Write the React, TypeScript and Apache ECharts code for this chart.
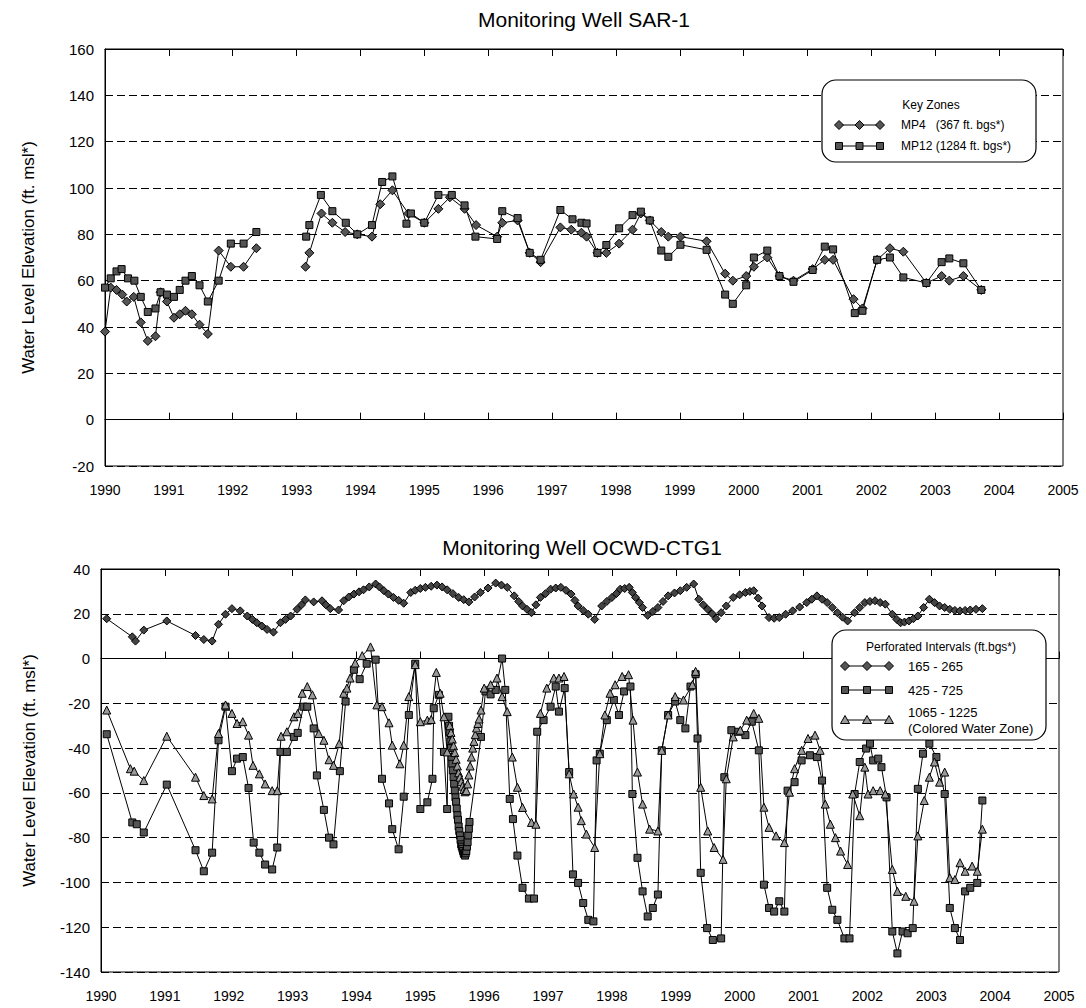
import React, { useEffect, useRef } from "react";
import * as echarts from "echarts";

type Pt = [number, number | null];

// ---------- Monitoring Well SAR-1 ----------
const MP4: Pt[] = [
  [1990.0, 38], [1990.09, 57], [1990.18, 56], [1990.27, 54], [1990.34, 51], [1990.45, 53], [1990.56, 42],
  [1990.67, 34], [1990.79, 36], [1990.87, 55], [1990.97, 51], [1991.08, 44], [1991.17, 45.5], [1991.26, 47],
  [1991.36, 45.5], [1991.48, 41], [1991.61, 37], [1991.78, 73], [1991.97, 66], [1992.17, 66], [1992.37, 74],
  [1992.8, null],
  [1993.14, 66], [1993.2, 72], [1993.39, 89], [1993.56, 85], [1993.76, 81], [1993.95, 80], [1994.18, 79],
  [1994.31, 93], [1994.5, 99], [1994.75, 89], [1995.0, 85], [1995.22, 91], [1995.4, 96], [1995.63, 91],
  [1995.81, 84], [1996.14, 79], [1996.22, 85], [1996.46, 86], [1996.65, 72], [1996.82, 68], [1997.13, 83],
  [1997.3, 82], [1997.46, 80.7], [1997.54, 79], [1997.71, 72], [1997.85, 72], [1998.05, 76], [1998.26, 82],
  [1998.39, 89], [1998.53, 86], [1998.71, 81], [1998.82, 79], [1999.01, 79], [1999.42, 77], [1999.71, 63],
  [1999.83, 60], [2000.04, 62], [2000.16, 66], [2000.37, 70], [2000.56, 62], [2000.78, 60], [2001.08, 65],
  [2001.27, 69], [2001.4, 69], [2001.72, 52], [2001.86, 48], [2002.09, 69], [2002.29, 74], [2002.5, 72.5],
  [2002.86, 59], [2003.1, 62], [2003.22, 60], [2003.44, 62], [2003.72, 56],
];

const MP12: Pt[] = [
  [1990.0, 57], [1990.09, 61], [1990.18, 64], [1990.26, 65], [1990.36, 61], [1990.46, 60], [1990.56, 53],
  [1990.67, 46.5], [1990.79, 48], [1990.87, 55], [1990.97, 54], [1991.08, 53], [1991.17, 56], [1991.26, 60],
  [1991.36, 62], [1991.48, 58], [1991.61, 51], [1991.78, 60], [1991.97, 76], [1992.17, 76], [1992.37, 81],
  [1992.8, null],
  [1993.15, 79], [1993.2, 84], [1993.38, 97], [1993.56, 90], [1993.77, 85], [1993.95, 80], [1994.18, 84],
  [1994.34, 102.6], [1994.5, 105], [1994.72, 84.6], [1994.79, 89], [1995.0, 85], [1995.22, 97], [1995.43, 97],
  [1995.63, 92.5], [1995.8, 79], [1996.14, 78], [1996.22, 90], [1996.46, 87], [1996.65, 72], [1996.82, 69],
  [1997.13, 90.5], [1997.32, 86.5], [1997.46, 85], [1997.54, 84.7], [1997.71, 72], [1997.85, 75.4],
  [1998.05, 82.6], [1998.26, 88.3], [1998.39, 89.8], [1998.53, 86], [1998.71, 73], [1998.82, 70.3],
  [1999.01, 75.5], [1999.42, 73.3], [1999.71, 54], [1999.83, 50], [2000.04, 58], [2000.16, 70], [2000.37, 73],
  [2000.56, 62], [2000.78, 59.5], [2001.08, 64.6], [2001.27, 74.7], [2001.4, 73.5], [2001.74, 46],
  [2001.86, 47], [2002.09, 69], [2002.29, 70], [2002.5, 61.4], [2002.86, 59], [2003.1, 68], [2003.22, 69.6],
  [2003.44, 67.5], [2003.72, 56],
];

// ---------- Monitoring Well OCWD-CTG1 ----------
const S165_265: Pt[] = [
  [1990.09, 17.8], [1990.49, 9.7], [1990.54, 7.8], [1990.67, 12.7], [1991.03, 16.8], [1991.48, 10.3],
  [1991.61, 8.5], [1991.74, 7.8], [1991.84, 15.3], [1991.95, 19.8], [1992.05, 22.3], [1992.18, 21.3],
  [1992.29, 19], [1992.37, 17.5], [1992.44, 16], [1992.52, 14.5], [1992.6, 13], [1992.7, 11.8], [1992.81, 16],
  [1992.89, 17.5], [1992.97, 19], [1993.07, 22], [1993.14, 24], [1993.2, 26.2], [1993.33, 25.3],
  [1993.46, 25.8], [1993.52, 24], [1993.59, 22.3], [1993.72, 21.7], [1993.8, 25.8], [1993.88, 27.5],
  [1993.96, 28.8], [1994.04, 29.8], [1994.11, 30.7], [1994.2, 32], [1994.3, 33.3], [1994.36, 32],
  [1994.43, 30.3], [1994.5, 28.8], [1994.58, 27.3], [1994.66, 26], [1994.74, 24.7], [1994.85, 29.5],
  [1994.92, 30.5], [1995.0, 31.3], [1995.08, 31.8], [1995.17, 32.3], [1995.26, 32.8], [1995.34, 32],
  [1995.42, 30.7], [1995.51, 29], [1995.6, 27.3], [1995.68, 26.3], [1995.76, 25.3], [1995.85, 27.5],
  [1995.94, 29.5], [1996.06, 31.5], [1996.18, 33.7], [1996.27, 32.8], [1996.36, 31.8], [1996.47, 28],
  [1996.54, 25.5], [1996.6, 23.5], [1996.67, 22], [1996.74, 20.5], [1996.81, 24], [1996.88, 27.3],
  [1996.96, 29], [1997.04, 31], [1997.12, 31.5], [1997.2, 31.8], [1997.28, 30.5], [1997.36, 28.8],
  [1997.42, 26], [1997.47, 23.5], [1997.55, 21.5], [1997.63, 19.8], [1997.73, 17.5], [1997.84, 23.5],
  [1997.92, 25.5], [1998.0, 27.3], [1998.07, 29], [1998.13, 31], [1998.2, 31.3], [1998.27, 31.8],
  [1998.32, 29.5], [1998.37, 27.3], [1998.43, 25], [1998.48, 22.8], [1998.56, 19.3], [1998.64, 21],
  [1998.72, 22.8], [1998.8, 25.5], [1998.88, 28], [1998.98, 29.3], [1999.07, 30.3], [1999.17, 31.8],
  [1999.28, 33.3], [1999.36, 26.5], [1999.43, 24], [1999.5, 22], [1999.57, 20], [1999.63, 17.8],
  [1999.71, 20.5], [1999.79, 23.5], [1999.9, 27.3], [2000.0, 28.5], [2000.09, 29.5], [2000.16, 30],
  [2000.22, 30.3], [2000.29, 27], [2000.35, 23.5], [2000.46, 18.3], [2000.54, 18], [2000.62, 18.3],
  [2000.72, 19.8], [2000.83, 21.3], [2000.94, 23], [2001.05, 25], [2001.13, 26.5], [2001.21, 28],
  [2001.29, 26.5], [2001.37, 25], [2001.45, 22.8], [2001.53, 20.5], [2001.61, 18.5], [2001.69, 16.8],
  [2001.8, 20.5], [2001.88, 22.8], [2001.96, 25], [2002.04, 25.5], [2002.12, 25.8], [2002.2, 25],
  [2002.28, 24.3], [2002.39, 19.8], [2002.46, 17.5], [2002.52, 16], [2002.58, 16.3], [2002.65, 16.8],
  [2002.72, 17.8], [2002.79, 19], [2002.88, 22.8], [2002.97, 26.5], [2003.05, 25], [2003.13, 23.5],
  [2003.21, 22.8], [2003.29, 22], [2003.37, 21.5], [2003.45, 21.3], [2003.53, 21.5], [2003.61, 21.7],
  [2003.7, 22], [2003.8, 22.3],
];

const S425_725: Pt[] = [
  [1990.09, -33.8], [1990.49, -73.2], [1990.56, -74], [1990.67, -77.7], [1991.03, -56.3], [1991.48, -85.6],
  [1991.61, -95], [1991.74, -86.7], [1991.84, -36.5], [1991.95, -21.5], [1992.05, -50.3], [1992.13, -44.7],
  [1992.22, -44], [1992.31, -57.8], [1992.39, -82.2], [1992.48, -86.7], [1992.57, -92], [1992.68, -94.2],
  [1992.76, -84.4], [1992.81, -41.7], [1992.91, -41.7], [1993.02, -35], [1993.08, -33.2], [1993.17, -21.5],
  [1993.23, -21.5], [1993.33, -31.2], [1993.38, -52.2], [1993.49, -67.6], [1993.57, -80], [1993.64, -83],
  [1993.74, -50.3], [1993.83, -19.2], [1993.96, -5], [1994.05, -9.2], [1994.16, -2.3], [1994.3, -0.5],
  [1994.4, -53.7], [1994.51, -64.7], [1994.56, -76.2], [1994.66, -85.2], [1994.74, -61.7], [1994.82, -25.2],
  [1994.92, -2.3], [1995.0, -67.2], [1995.11, -64.2], [1995.19, -53.7], [1995.21, -22.2], [1995.29, -16.2],
  [1995.37, -41.7], [1995.42, -67.2], [1995.44, -26], [1995.45, -30], [1995.46, -33], [1995.47, -37],
  [1995.48, -40], [1995.49, -44], [1995.5, -47], [1995.51, -50], [1995.52, -53], [1995.53, -56],
  [1995.54, -59], [1995.55, -62], [1995.56, -64], [1995.57, -67], [1995.58, -70], [1995.59, -72],
  [1995.6, -75], [1995.61, -77], [1995.62, -79], [1995.63, -81], [1995.64, -83], [1995.65, -84],
  [1995.66, -85], [1995.67, -86], [1995.68, -87], [1995.69, -87.5], [1995.7, -88], [1995.71, -87],
  [1995.72, -86], [1995.73, -84], [1995.74, -82], [1995.75, -79], [1995.76, -76], [1995.77, -73],
  [1995.95, -35], [1996.02, -14.7], [1996.1, -16], [1996.18, -14], [1996.28, 0], [1996.33, -14],
  [1996.4, -62.7], [1996.45, -71.7], [1996.52, -88], [1996.6, -102.4], [1996.7, -107.2], [1996.78, -107.2],
  [1996.83, -32.7], [1996.93, -27.5], [1997.04, -21.5], [1997.12, -12.5], [1997.17, -23.7], [1997.26, -13.2],
  [1997.33, -50.7], [1997.39, -96.4], [1997.47, -100.2], [1997.55, -109.2], [1997.63, -116.7],
  [1997.71, -117.4], [1997.76, -45.5], [1997.81, -42.5], [1997.92, -27.5], [1998.03, -18.5], [1998.11, -25.2],
  [1998.19, -14.7], [1998.29, -12.5], [1998.32, -60.5], [1998.4, -89], [1998.48, -104], [1998.56, -115.2],
  [1998.64, -111.4], [1998.72, -105.4], [1998.78, -41], [1998.88, -25.2], [1998.99, -19.2], [1999.07, -27.5],
  [1999.15, -31.2], [1999.23, -12.5], [1999.31, -7], [1999.34, -35.7], [1999.39, -95.7], [1999.49, -120.4],
  [1999.58, -125.7], [1999.71, -125], [1999.76, -53], [1999.87, -32], [1999.98, -32.7], [2000.09, -34.2],
  [2000.19, -28.2], [2000.3, -41], [2000.38, -101], [2000.46, -111.4], [2000.54, -113], [2000.62, -108.4],
  [2000.7, -113], [2000.75, -59], [2000.86, -55.2], [2000.97, -45.5], [2001.1, -43.2], [2001.21, -44],
  [2001.29, -54.5], [2001.37, -102.4], [2001.45, -112.2], [2001.53, -116.7], [2001.64, -125], [2001.72, -125],
  [2001.8, -60.5], [2001.88, -46.2], [2001.98, -40.2], [2002.04, -38], [2002.09, -45.5], [2002.17, -44.7],
  [2002.22, -48.5], [2002.3, -62], [2002.39, -121.9], [2002.47, -131.7], [2002.55, -121.9], [2002.63, -122.7],
  [2002.71, -120.4], [2002.79, -58.2], [2002.87, -42.5], [2002.97, -38], [2003.08, -44], [2003.21, -60.5],
  [2003.29, -111.4], [2003.37, -120.4], [2003.45, -125.7], [2003.53, -104], [2003.61, -102.4],
  [2003.72, -100.2], [2003.8, -63.4],
];

const S1065_1225: Pt[] = [
  [1990.09, -23], [1990.46, -49.2], [1990.52, -50.3], [1990.67, -54.5], [1991.03, -34.7], [1991.48, -53],
  [1991.61, -61.2], [1991.74, -62.7], [1991.84, -33.5], [1991.95, -20.7], [1992.05, -24.5], [1992.13, -29],
  [1992.22, -28.2], [1992.31, -34.2], [1992.38, -47.7], [1992.48, -51.5], [1992.57, -56], [1992.68, -59],
  [1992.76, -59], [1992.82, -34.7], [1992.91, -32.7], [1993.02, -26], [1993.08, -24.5], [1993.15, -15.5],
  [1993.23, -12.5], [1993.31, -16.2], [1993.41, -33.5], [1993.49, -36.5], [1993.57, -45.2], [1993.64, -47.7],
  [1993.73, -38], [1993.8, -15.5], [1993.85, -13.2], [1993.9, -8.7], [1993.98, -2], [1994.09, 1.3],
  [1994.22, 5.2], [1994.32, -20.7], [1994.4, -21.5], [1994.51, -28.7], [1994.56, -38.7], [1994.68, -47],
  [1994.74, -38.7], [1994.82, -17], [1994.92, -2.7], [1995.0, -28.2], [1995.11, -27.5], [1995.17, -27.2],
  [1995.25, -6.2], [1995.31, -15.5], [1995.37, -26], [1995.42, -41.7], [1995.46, -30], [1995.48, -33],
  [1995.5, -36], [1995.52, -39], [1995.54, -42], [1995.56, -45], [1995.58, -48], [1995.6, -51],
  [1995.62, -53], [1995.64, -55], [1995.66, -57], [1995.68, -58.5], [1995.7, -59.5], [1995.72, -59],
  [1995.74, -56], [1995.76, -52], [1995.78, -48], [1995.8, -44], [1995.82, -40], [1995.84, -37],
  [1995.86, -34], [1995.88, -31], [1995.9, -29], [1995.92, -27], [1995.95, -23], [1996.0, -13.2],
  [1996.1, -11.7], [1996.2, -8.7], [1996.28, -17], [1996.36, -23.7], [1996.44, -44], [1996.52, -57.5],
  [1996.6, -66.5], [1996.74, -73.2], [1996.81, -74], [1996.88, -24.5], [1996.98, -13.2], [1997.09, -8.7],
  [1997.17, -8.7], [1997.25, -8], [1997.33, -51.5], [1997.4, -60.5], [1997.47, -66.4], [1997.52, -72.4],
  [1997.6, -78.4], [1997.73, -84.4], [1997.81, -42.5], [1997.89, -25.2], [1997.97, -15.5], [1998.05, -11.7],
  [1998.16, -8], [1998.26, -7.2], [1998.33, -27.5], [1998.4, -50.7], [1998.48, -65], [1998.59, -76.2],
  [1998.72, -77], [1998.78, -41], [1998.88, -25.2], [1998.99, -17], [1999.12, -18.5], [1999.26, -11.7],
  [1999.31, -5.7], [1999.39, -57.5], [1999.5, -77], [1999.6, -84.4], [1999.74, -89.7], [1999.79, -53.7],
  [1999.9, -35], [2000.01, -32], [2000.11, -27.5], [2000.22, -24.5], [2000.3, -26.7], [2000.38, -66.4],
  [2000.46, -75.4], [2000.57, -79.2], [2000.7, -82.2], [2000.78, -59.7], [2000.86, -49.2], [2000.97, -41],
  [2001.07, -35.7], [2001.18, -34.2], [2001.26, -41], [2001.34, -65], [2001.42, -74], [2001.5, -80],
  [2001.58, -86], [2001.69, -92], [2001.77, -60.5], [2001.88, -70.2], [2001.96, -48.5], [2002.01, -60.5],
  [2002.09, -59], [2002.2, -59], [2002.28, -60.5], [2002.39, -94.2], [2002.47, -104], [2002.6, -106.2],
  [2002.73, -108.4], [2002.79, -79.2], [2002.89, -63.4], [2002.97, -53], [2003.05, -46.2], [2003.13, -55.2],
  [2003.21, -50.7], [2003.29, -97.9], [2003.37, -98.7], [2003.45, -91.2], [2003.53, -95], [2003.64, -92.7],
  [2003.72, -95], [2003.8, -76.2],
];

const YEAR_MIN = 1990;
const YEAR_MAX = 2005;
const TOP_Y = { min: -20, max: 160 };
const BOT_Y = { min: -140, max: 40 };
const TITLES = ["Monitoring Well SAR-1", "Monitoring Well OCWD-CTG1"];
const Y_NAME = "Water Level Elevation (ft. msl*)";
const TOP_LEGEND = ["MP4   (367 ft. bgs*)", "MP12 (1284 ft. bgs*)"];
const BOT_LEGEND = ["165 - 265", "425 - 725", "1065 - 1225", "(Colored Water Zone)"];

const FONT = "'Liberation Sans', Arial, Helvetica, sans-serif";
const MARK_DARK = "#555555";
const MARK_LIGHT = "#9a9a9a";

function xAxes(gridIndex: number) {
  const common = {
    gridIndex,
    type: "value" as const,
    min: YEAR_MIN,
    max: YEAR_MAX,
    interval: 1,
    splitLine: { show: false },
    axisLine: { show: true, lineStyle: { color: "#000", width: 1 } },
    axisTick: { show: true, inside: true, length: 7, lineStyle: { color: "#000", width: 1 } },
  };
  return [
    {
      ...common,
      position: "bottom",
      axisLabel: {
        show: true,
        margin: 17,
        color: "#000",
        fontSize: 14,
        fontFamily: FONT,
        formatter: (v: number) => String(Math.round(v)),
      },
    },
    { ...common, position: "top", axisLabel: { show: false } },
  ];
}

function yAxis(gridIndex: number, range: { min: number; max: number }, nameGap: number) {
  return {
    gridIndex,
    type: "value" as const,
    min: range.min,
    max: range.max,
    interval: 20,
    name: Y_NAME,
    nameLocation: "middle",
    nameGap,
    nameTextStyle: { color: "#000", fontSize: 17, fontFamily: FONT },
    axisLine: { show: true, lineStyle: { color: "#000", width: 1 } },
    axisTick: { show: false },
    axisLabel: { color: "#000", fontSize: 15, fontFamily: FONT, margin: 11 },
    splitLine: { show: true, lineStyle: { color: "#000", width: 1, type: [8, 4] } },
  };
}

function lineSeries(
  name: string,
  data: Pt[],
  xi: number,
  yi: number,
  symbol: string,
  size: number | number[],
  fill: string
) {
  return {
    name,
    type: "line",
    xAxisIndex: xi,
    yAxisIndex: yi,
    data,
    symbol,
    symbolSize: size,
    connectNulls: false,
    showAllSymbol: true,
    lineStyle: { color: "#000", width: 1 },
    itemStyle: { color: fill, borderColor: "#000", borderWidth: 1 },
    emphasis: { disabled: true },
  };
}

function marker(kind: string, cx: number, cy: number, fill: string) {
  const st = { fill, stroke: "#000", lineWidth: 1 };
  if (kind === "diamond")
    return { type: "polygon", z: 101, shape: { points: [[cx - 4.5, cy], [cx, cy - 4.5], [cx + 4.5, cy], [cx, cy + 4.5]] }, style: st };
  if (kind === "square")
    return { type: "rect", z: 101, shape: { x: cx - 3.5, y: cy - 3.5, width: 7, height: 7 }, style: st };
  return { type: "polygon", z: 101, shape: { points: [[cx, cy - 4.5], [cx + 4.5, cy + 3.5], [cx - 4.5, cy + 3.5]] }, style: st };
}

function legendIcon(kind: string, x0: number, x1: number, y: number, fill: string) {
  const mid = (x0 + x1) / 2;
  return [
    { type: "line", z: 100, shape: { x1: x0, y1: y, x2: x1, y2: y }, style: { stroke: "#000", lineWidth: 1 } },
    marker(kind, x0, y, fill),
    marker(kind, mid, y, fill),
    marker(kind, x1, y, fill),
  ];
}

function txt(text: string, x: number, y: number, size: number, align = "left") {
  return {
    type: "text",
    z: 102,
    x,
    y,
    style: { text, fill: "#000", font: `${size}px ${FONT}`, align, verticalAlign: "middle" },
  };
}

export default function App() {
  const ref = useRef<HTMLDivElement>(null);

  useEffect(() => {
    if (!ref.current) return;
    const chart = echarts.init(ref.current, null, { renderer: "svg" });

    const graphic: any[] = [
      txt(TITLES[0], 584, 19, 21, "center"),
      txt(TITLES[1], 582, 547, 21, "center"),
      // top legend
      {
        type: "rect",
        z: 99,
        shape: { x: 822, y: 80, width: 214, height: 82, r: 14 },
        style: { fill: "#fff", stroke: "#000", lineWidth: 1.2 },
      },
      txt("Key Zones", 931, 105, 12, "center"),
      ...legendIcon("diamond", 839, 880, 125, MARK_DARK),
      txt(TOP_LEGEND[0], 901, 125, 12),
      ...legendIcon("square", 839, 880, 146, MARK_DARK),
      txt(TOP_LEGEND[1], 901, 146, 12),
      // bottom legend
      {
        type: "rect",
        z: 99,
        shape: { x: 832, y: 630, width: 214, height: 110, r: 14 },
        style: { fill: "#fff", stroke: "#000", lineWidth: 1.2 },
      },
      txt("Perforated Intervals (ft.bgs*)", 941, 647, 12, "center"),
      ...legendIcon("diamond", 845, 889, 666, MARK_DARK),
      txt(BOT_LEGEND[0], 908, 666, 13),
      ...legendIcon("square", 845, 889, 690, MARK_DARK),
      txt(BOT_LEGEND[1], 908, 690, 13),
      ...legendIcon("triangle", 845, 889, 720, MARK_LIGHT),
      txt(BOT_LEGEND[2], 908, 712, 13),
      txt(BOT_LEGEND[3], 908, 728, 13),
    ];

    const option: any = {
      animation: false,
      backgroundColor: "#fff",
      textStyle: { fontFamily: FONT },
      grid: [
        { left: 105, right: 23, top: 49, height: 417, show: true, borderColor: "#000", borderWidth: 1, backgroundColor: "transparent" },
        { left: 101, right: 27, top: 569, height: 403, show: true, borderColor: "#000", borderWidth: 1, backgroundColor: "transparent" },
      ],
      xAxis: [...xAxes(0), ...xAxes(1)],
      yAxis: [yAxis(0, TOP_Y, 68), yAxis(1, BOT_Y, 63)],
      series: [
        lineSeries("MP4", MP4, 0, 0, "diamond", 9, MARK_DARK),
        lineSeries("MP12", MP12, 0, 0, "rect", 7, MARK_DARK),
        lineSeries("165 - 265", S165_265, 2, 1, "diamond", 8, "#444"),
        lineSeries("425 - 725", S425_725, 2, 1, "rect", 7, MARK_DARK),
        lineSeries("1065 - 1225", S1065_1225, 2, 1, "triangle", 8, MARK_LIGHT),
      ],
      graphic,
    };

    chart.setOption(option);
    return () => chart.dispose();
  }, []);

  return (
    <div
      ref={ref}
      style={{ position: "absolute", left: 0, top: 0, width: 1086, height: 1008, background: "#fff" }}
    />
  );
}
